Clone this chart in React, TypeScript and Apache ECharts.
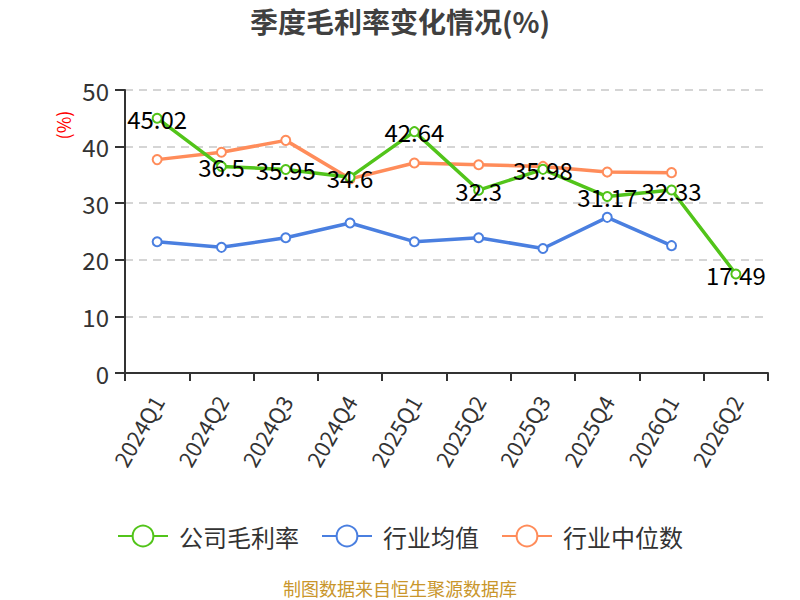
import React, { useEffect, useRef } from "react";
import * as echarts from "echarts";

const categories = ["2024Q1", "2024Q2", "2024Q3", "2024Q4", "2025Q1", "2025Q2", "2025Q3", "2025Q4", "2026Q1", "2026Q2"];
const companyMargin = [45.02, 36.5, 35.95, 34.6, 42.64, 32.3, 35.98, 31.17, 32.33, 17.49];
const industryAvg = [23.2, 22.2, 23.9, 26.5, 23.2, 23.9, 22.0, 27.5, 22.5, null];
const industryMedian = [37.7, 39.0, 41.1, 34.3, 37.1, 36.8, 36.5, 35.5, 35.4, null];
const seriesNames = ["公司毛利率", "行业均值", "行业中位数"];
const yTicks = { min: 0, max: 50, interval: 10 };

const FONT = "'Noto Sans CJK SC', 'Noto Sans', sans-serif";

export default function App() {
  const ref = useRef<HTMLDivElement>(null);
  useEffect(() => {
    if (!ref.current) return;
    const chart = echarts.init(ref.current, null, { renderer: "svg" });
    chart.setOption({
      animation: false,
      textStyle: { fontFamily: FONT },
      title: {
        text: "季度毛利率变化情况(%)",
        left: "center",
        top: 2,
        textStyle: { fontSize: 28, fontWeight: "bold", color: "#404040", fontFamily: FONT },
      },
      graphic: [
        {
          type: "text",
          x: 63,
          y: 125,
          rotation: Math.PI / 2,
          style: { text: "(%)", fill: "#ff0000", fontSize: 18, fontFamily: FONT, align: "center", verticalAlign: "middle" },
        },
        {
          type: "text",
          x: 400,
          y: 588,
          style: { text: "制图数据来自恒生聚源数据库", fill: "#c9962b", fontSize: 18, fontFamily: FONT, align: "center", verticalAlign: "middle" },
        },
      ],
      legend: {
        data: seriesNames,
        top: 519,
        left: "center",
        itemWidth: 50,
        itemHeight: 26,
        itemGap: 22,
        textStyle: { fontSize: 24, color: "#333", fontFamily: FONT, padding: [0, 0, 0, 6] },
      },
      grid: { left: 125, right: 32, top: 90, bottom: 227 },
      xAxis: {
        type: "category",
        data: categories,
        boundaryGap: true,
        axisLine: { lineStyle: { color: "#333", width: 2 } },
        axisTick: { show: true, length: 8, lineStyle: { color: "#333", width: 2 } },
        axisLabel: { rotate: 60, fontSize: 22, color: "#333", margin: 24, fontFamily: FONT },
      },
      yAxis: {
        type: "value",
        min: yTicks.min,
        max: yTicks.max,
        interval: yTicks.interval,
        axisLine: { show: true, lineStyle: { color: "#333", width: 2 } },
        axisTick: { show: true, length: 10, lineStyle: { color: "#333", width: 2 } },
        axisLabel: { fontSize: 24, color: "#333", margin: 16, fontFamily: FONT },
        splitLine: { lineStyle: { type: [8, 6], color: "#c8c8c8", width: 1.5 } },
      },
      series: [
        {
          name: seriesNames[0],
          type: "line",
          data: companyMargin,
          symbol: "emptyCircle",
          symbolSize: 9,
          itemStyle: { color: "#52c41a", borderWidth: 2 },
          lineStyle: { width: 3.5, color: "#52c41a" },
          label: { show: true, position: "inside", fontSize: 24, color: "#000", fontFamily: FONT },
          z: 3,
        },
        {
          name: seriesNames[1],
          type: "line",
          data: industryAvg,
          symbol: "emptyCircle",
          symbolSize: 9,
          itemStyle: { color: "#4a7fe0", borderWidth: 2 },
          lineStyle: { width: 3.5, color: "#4a7fe0" },
          z: 2,
        },
        {
          name: seriesNames[2],
          type: "line",
          data: industryMedian,
          symbol: "emptyCircle",
          symbolSize: 9,
          itemStyle: { color: "#ff8c5a", borderWidth: 2 },
          lineStyle: { width: 3.5, color: "#ff8c5a" },
          z: 2,
        },
      ],
    });
    return () => chart.dispose();
  }, []);
  return <div ref={ref} style={{ width: 800, height: 600, position: "absolute", left: 0, top: 0 }} />;
}
